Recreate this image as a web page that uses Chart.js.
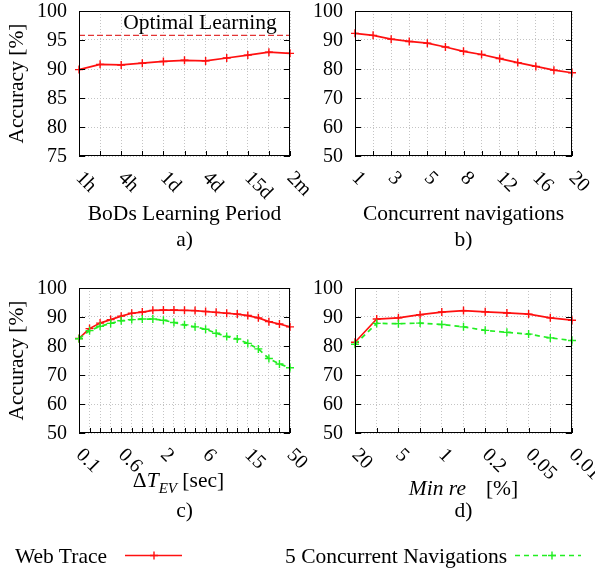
<!DOCTYPE html>
<html>
<head>
<meta charset="utf-8">
<script src="https://cdn.jsdelivr.net/npm/chart.js@4.4.0/dist/chart.umd.min.js"></script>
<style>
body { margin: 0; background: #fff; width: 595px; height: 571px; position: relative; overflow: hidden; font-family: "Liberation Serif", serif; }
canvas { position: absolute; }
.leg { position: absolute; font-size: 21.5px; line-height: 24px; white-space: nowrap; color: #000; }
</style>
</head>
<body>
<canvas id="chartA" width="320" height="260" style="left:0;top:0"></canvas>
<canvas id="chartB" width="305" height="260" style="left:290px;top:0"></canvas>
<canvas id="chartC" width="320" height="280" style="left:0;top:260px"></canvas>
<canvas id="chartD" width="305" height="280" style="left:290px;top:260px"></canvas>
<canvas id="legendLines" width="595" height="31" style="left:0;top:540px"></canvas>
<span class="leg" style="left:15px;top:544px">Web Trace</span>
<span class="leg" style="left:285px;top:544px">5 Concurrent Navigations</span>

<script>
var periodCats = ['1h', '2h', '4h', '8h', '1d', '2d', '4d', '8d', '15d', '1m', '2m'];
var periodTicks = ['1h', '', '4h', '', '1d', '', '4d', '', '15d', '', '2m'];
var periodAcc = [89.9, 90.8, 90.7, 91.0, 91.3, 91.5, 91.4, 91.9, 92.4, 92.9, 92.7];
var optimalAcc = 95.8;

var navCats = [1, 2, 3, 4, 5, 6, 8, 10, 12, 14, 16, 18, 20];
var navTicks = ['1', '', '3', '', '5', '', '8', '', '12', '', '16', '', '20'];
var navAcc = [92.3, 91.6, 90.3, 89.5, 88.9, 87.6, 86.1, 85.0, 83.6, 82.2, 80.9, 79.6, 78.7];

var dtCats = [0.1, 0.2, 0.3, 0.4, 0.6, 0.8, 1, 1.5, 2, 3, 4, 5, 6, 8, 10, 12, 15, 20, 30, 40, 50];
var dtTicks = ['0.1', '', '', '', '0.6', '', '', '', '2', '', '', '', '6', '', '', '', '15', '', '', '', '50'];
var dtWeb = [82.6, 86.0, 87.9, 89.1, 90.3, 91.3, 91.7, 92.3, 92.4, 92.4, 92.3, 92.2, 91.9, 91.6, 91.3, 91.0, 90.5, 89.7, 88.4, 87.6, 86.6];
var dtFive = [82.5, 85.3, 86.8, 87.8, 88.7, 89.1, 89.3, 89.3, 88.9, 88.1, 87.3, 86.6, 85.8, 84.4, 83.3, 82.4, 80.9, 79.0, 75.7, 73.8, 72.5];

var reCats = [20, 10, 5, 2, 1, 0.5, 0.2, 0.1, 0.05, 0.02, 0.01];
var reTicks = ['20', '', '5', '', '1', '', '0.2', '', '0.05', '', '0.01'];
var reWeb = [81.3, 89.3, 89.7, 90.8, 91.7, 92.2, 91.8, 91.4, 91.0, 89.7, 88.9];
var reFive = [80.6, 87.8, 87.7, 87.9, 87.4, 86.6, 85.4, 84.7, 84.1, 82.8, 81.9];

var RED = '#ff1010';
var GREEN = '#22ee22';
var FONT = '"Liberation Serif", "Times New Roman", serif';

function segFont(s) {
    return (s.it ? 'italic ' : '') + (s.sub ? '15px ' : '21.5px ') + FONT;
}

// gnuplot style frame, inner ticks, rotated tick labels, titles
var framePlugin = {
    id: 'frame',
    afterDraw: function (chart, args, o) {
        var ctx = chart.ctx, a = chart.chartArea;
        var x = chart.scales.x, y = chart.scales.y;
        ctx.save();
        ctx.strokeStyle = '#000';
        ctx.lineWidth = 1;
        ctx.strokeRect(a.left + 0.5, a.top + 0.5, a.right - a.left - 1, a.bottom - a.top - 1);

        ctx.beginPath();
        for (var i = 0; i < x.ticks.length; i++) {
            var px = Math.round(x.getPixelForTick(i)) + 0.5;
            ctx.moveTo(px, a.bottom);
            ctx.lineTo(px, a.bottom - 5);
        }
        for (var j = 0; j < y.ticks.length; j++) {
            var py = Math.round(y.getPixelForTick(j)) + 0.5;
            ctx.moveTo(a.left, py);
            ctx.lineTo(a.left + 6, py);
            ctx.moveTo(a.right, py);
            ctx.lineTo(a.right - 6, py);
        }
        ctx.stroke();

        ctx.fillStyle = '#000';
        ctx.font = '20px ' + FONT;
        ctx.textAlign = 'left';
        ctx.textBaseline = 'middle';
        o.tickLabels.forEach(function (t, i) {
            if (!t) return;
            ctx.save();
            ctx.translate(x.getPixelForTick(i), a.bottom + 19);
            ctx.rotate(Math.PI / 4);
            ctx.fillText(t, 0, 0);
            ctx.restore();
        });
        ctx.textAlign = 'right';
        y.ticks.forEach(function (t, j) {
            ctx.fillText(String(t.value), a.left - 12, y.getPixelForTick(j) + 1);
        });

        var cx = (a.left + a.right) / 2;
        ctx.textAlign = 'left';
        ctx.textBaseline = 'alphabetic';
        var w = 0;
        o.xTitle.forEach(function (s) {
            if (s.gap) { w += s.gap; return; }
            ctx.font = segFont(s);
            w += ctx.measureText(s.t).width;
        });
        var sx = cx - w / 2 + (o.titleDx || 0);
        o.xTitle.forEach(function (s) {
            if (s.gap) { sx += s.gap; return; }
            ctx.font = segFont(s);
            ctx.fillText(s.t, sx, o.titleY + (s.sub ? 6 : 0));
            sx += ctx.measureText(s.t).width;
        });

        ctx.font = '21.5px ' + FONT;
        ctx.textAlign = 'center';
        ctx.fillText(o.label, cx, o.labelY);

        if (o.note) {
            ctx.fillText(o.note.t, o.note.x, o.note.y);
        }

        if (o.yTitle) {
            ctx.save();
            ctx.translate(17, (a.top + a.bottom) / 2);
            ctx.rotate(-Math.PI / 2);
            ctx.textBaseline = 'middle';
            ctx.fillText(o.yTitle, 0, 0);
            ctx.restore();
        }
        ctx.restore();
    }
};

function series(values, color, dash) {
    return {
        data: values,
        borderColor: color,
        borderWidth: 1.7,
        borderDash: dash || [],
        pointStyle: 'cross',
        pointRadius: 4,
        pointBorderColor: color,
        pointBorderWidth: 1.4,
        fill: false,
        tension: 0,
        clip: false
    };
}

function makeChart(id, cats, datasets, yMin, yMax, yStep, pad, panel) {
    return new Chart(document.getElementById(id), {
        type: 'line',
        data: { labels: cats, datasets: datasets },
        options: {
            responsive: false,
            animation: false,
            layout: { padding: pad },
            plugins: {
                legend: { display: false },
                tooltip: { enabled: false },
                frame: panel
            },
            scales: {
                x: {
                    grid: { color: '#c4c4c4', drawTicks: false },
                    border: { display: false, dash: [1, 2] },
                    ticks: { display: false, autoSkip: false }
                },
                y: {
                    min: yMin,
                    max: yMax,
                    grid: { color: '#c4c4c4', drawTicks: false },
                    border: { display: false, dash: [1, 2] },
                    ticks: { display: false, stepSize: yStep }
                }
            }
        },
        plugins: [framePlugin]
    });
}

var optimalLine = series(periodCats.map(function () { return optimalAcc; }), '#e23434', [6, 3]);
optimalLine.pointRadius = 0;
optimalLine.borderWidth = 1.3;

makeChart('chartA', periodCats, [optimalLine, series(periodAcc, RED)], 75, 100, 5,
    { left: 79, right: 30, top: 11, bottom: 104 },
    { tickLabels: periodTicks, xTitle: [{ t: 'BoDs Learning Period' }], titleY: 220, label: 'a)', labelY: 246,
      yTitle: 'Accuracy [%]', note: { t: 'Optimal Learning', x: 200, y: 29 } });

makeChart('chartB', navCats, [series(navAcc, RED)], 50, 100, 10,
    { left: 65, right: 23, top: 11, bottom: 104 },
    { tickLabels: navTicks, xTitle: [{ t: 'Concurrent navigations' }], titleY: 220, label: 'b)', labelY: 246 });

makeChart('chartC', dtCats, [series(dtFive, GREEN, [5, 4]), series(dtWeb, RED)], 50, 100, 10,
    { left: 79, right: 30, top: 28, bottom: 107 },
    { tickLabels: dtTicks, xTitle: [{ t: '\u0394' }, { t: 'T', it: true }, { t: 'EV', it: true, sub: true }, { t: ' [sec]' }],
      titleY: 227, titleDx: -6, label: 'c)', labelY: 257, yTitle: 'Accuracy [%]' });

makeChart('chartD', reCats, [series(reFive, GREEN, [5, 4]), series(reWeb, RED)], 50, 100, 10,
    { left: 65, right: 23, top: 28, bottom: 107 },
    { tickLabels: reTicks, xTitle: [{ t: 'Min re', it: true }, { gap: 20 }, { t: '[%]' }],
      titleY: 235, label: 'd)', labelY: 257 });

// legend samples
var lc = document.getElementById('legendLines').getContext('2d');
function sample(x0, x1, xm, color, dash) {
    lc.save();
    lc.strokeStyle = color;
    lc.lineWidth = 1.7;
    lc.setLineDash(dash);
    lc.beginPath();
    lc.moveTo(x0, 15.5);
    lc.lineTo(x1, 15.5);
    lc.stroke();
    lc.setLineDash([]);
    lc.lineWidth = 1.4;
    lc.beginPath();
    lc.moveTo(xm - 4, 15.5);
    lc.lineTo(xm + 4, 15.5);
    lc.moveTo(xm, 11.5);
    lc.lineTo(xm, 19.5);
    lc.stroke();
    lc.restore();
}
sample(125, 182, 154, RED, []);
sample(515, 581, 552, GREEN, [5, 4]);
</script>
</body>
</html>
